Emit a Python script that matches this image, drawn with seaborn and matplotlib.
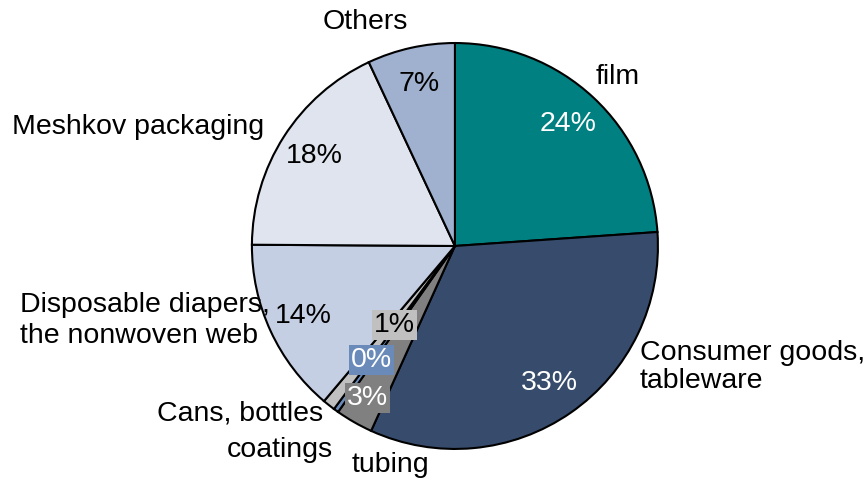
import matplotlib
matplotlib.use("Agg")
import matplotlib.pyplot as plt
import seaborn as sns

sns.set_theme(style="white")
plt.rcParams['font.family'] = ['Liberation Sans', 'DejaVu Sans']

categories = ["film", "Consumer goods,\ntableware", "tubing", "coatings",
              "Cans, bottles", "Disposable diapers,\nthe nonwoven web",
              "Meshkov packaging", "Others"]
values = [24, 33, 3, 0.4, 1, 14, 18, 7]
colors = ["#008080", "#374c6c", "#808080", "#6a8bb9", "#c0c0c0",
          "#c5cfe3", "#dfe4ee", "#9fb1cf"]
pct_colors = ["white", "white", "white", "white", "black", "black", "black", "black"]

fig = plt.figure(figsize=(8.66, 4.8), dpi=100)
ax = fig.add_axes([0, 0, 1, 1])

wedges, texts, autotexts = ax.pie(
    values, colors=colors, startangle=90, counterclock=False,
    autopct='%.0f%%', pctdistance=0.82,
    wedgeprops=dict(edgecolor='black', linewidth=1.5),
    textprops=dict(fontsize=20.5))

for t, c in zip(autotexts, pct_colors):
    t.set_color(c)

# small slices: labels pulled out of the wedge with coloured boxes
small = {2: (-0.429, -0.749), 3: (-0.409, -0.562), 4: (-0.296, -0.389)}
for i, pos in small.items():
    autotexts[i].set_position(pos)
    autotexts[i].set_bbox(dict(facecolor=colors[i], edgecolor='none', pad=1.5))

label_pos = {
    0: ((0.695, 0.833), 'left', 'center', 1.1),
    1: ((0.912, -0.596), 'left', 'center', 1.1),
    2: ((-0.320, -1.079), 'center', 'center', 1.1),
    3: ((-0.862, -1.005), 'center', 'center', 1.1),
    4: ((-1.059, -0.823), 'center', 'center', 1.1),
    5: ((-2.143, -0.365), 'left', 'center', 1.25),
    6: ((-2.182, 0.586), 'left', 'center', 1.1),
    7: ((-0.443, 1.103), 'center', 'center', 1.1),
}
for i, ((x, y), ha, va, ls) in label_pos.items():
    ax.text(x, y, categories[i], ha=ha, va=va, fontsize=20.5,
            color='black', linespacing=ls, multialignment='left')

ax.set_aspect('auto')
ax.set_xlim(-2.241, 2.025)
ax.set_ylim(-1.153, 1.212)
ax.axis('off')

fig.savefig("out.png", dpi=100)
